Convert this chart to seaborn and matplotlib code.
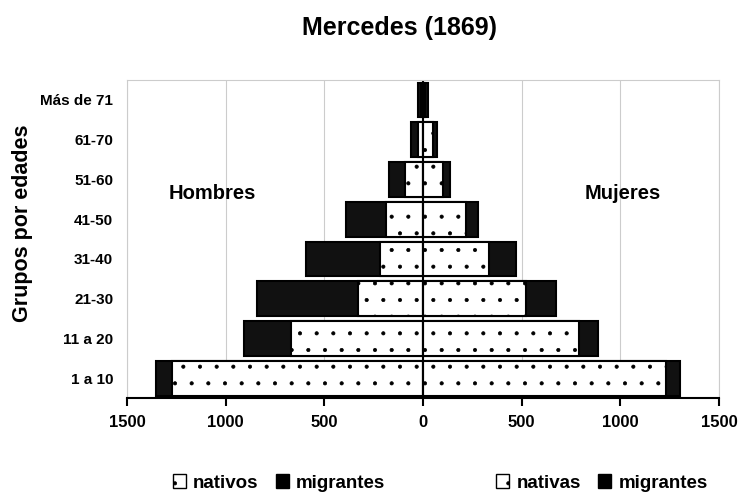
import numpy as np
import pandas as pd
import matplotlib
matplotlib.use("Agg")
import matplotlib.pyplot as plt
import seaborn as sns
from matplotlib.patches import Patch

# age groups, top to bottom
ages = ["Más de 71", "61-70", "51-60", "41-50", "31-40", "21-30", "11 a 20", "1 a 10"]
men_native = [10, 25, 90, 188, 218, 330, 670, 1270]
men_migr = [15, 35, 85, 203, 376, 513, 239, 85]
women_native = [10, 50, 100, 218, 335, 523, 792, 1233]
women_migr = [15, 20, 35, 61, 137, 152, 96, 67]
xticks = [-1500, -1000, -500, 0, 500, 1000, 1500]


def build_frame():
    df = pd.DataFrame({"edad": ages})
    df["h_nat"] = -np.array(men_native)
    df["h_tot"] = -(np.array(men_native) + np.array(men_migr))
    df["m_nat"] = np.array(women_native)
    df["m_tot"] = np.array(women_native) + np.array(women_migr)
    return df


sns.set_style("white")
plt.rcParams["font.family"] = ["Liberation Sans", "DejaVu Sans"]
plt.rcParams["font.weight"] = "bold"
plt.rcParams["text.color"] = "black"
plt.rcParams["xtick.color"] = "black"
plt.rcParams["ytick.color"] = "black"
plt.rcParams["hatch.linewidth"] = 0.5
plt.rcParams["hatch.color"] = "black"

df = build_frame()

fig, ax = plt.subplots(figsize=(7.39, 4.94), dpi=100)
fig.subplots_adjust(left=0.172, right=0.973, top=0.838, bottom=0.194)

kw = dict(y="edad", orient="h", edgecolor="black", linewidth=1.5,
          width=0.87, saturation=1, ax=ax)
sns.barplot(data=df, x="h_tot", color="#111111", **kw)
sns.barplot(data=df, x="m_tot", color="#111111", **kw)
n0 = len(ax.patches)
sns.barplot(data=df, x="h_nat", color="white", **kw)
sns.barplot(data=df, x="m_nat", color="white", **kw)
for p in ax.patches[n0:]:
    p.set_hatch(".")

ax.set_xlim(-1500, 1500)
ax.set_ylim(7.5, -0.5)
ax.set_xticks(xticks)
ax.set_xticklabels([str(abs(t)) for t in xticks])
ax.set_xlabel("")
ax.set_ylabel("")
ax.grid(axis="x", color="#cccccc", lw=0.8)
ax.set_axisbelow(True)
for s in ["left", "top", "right"]:
    ax.spines[s].set_color("#cccccc")
    ax.spines[s].set_linewidth(0.8)
ax.spines["bottom"].set_color("black")
ax.spines["bottom"].set_linewidth(1.5)
ax.axvline(0, color="black", lw=1.5)
ax.tick_params(axis="x", direction="out", length=6, width=1.5, color="black",
               labelsize=12, pad=6, bottom=True)
ax.tick_params(axis="y", length=0, labelsize=11, pad=10)

ax.text(-1070, 2.35, "Hombres", ha="center", va="center", fontsize=14.5, fontweight="bold")
ax.text(1010, 2.35, "Mujeres", ha="center", va="center", fontsize=14.5, fontweight="bold")

fig.text(0.54, 0.943, "Mercedes (1869)", ha="center", va="center", fontsize=18, fontweight="bold")
fig.text(0.03, 0.548, "Grupos por edades", rotation=90, ha="center", va="center",
         fontsize=15.5, fontweight="bold")

lg_kw = dict(ncol=2, loc="center", frameon=False, handlelength=0.7, handleheight=0.7,
             columnspacing=0.9, handletextpad=0.4, prop={"size": 13.5, "weight": "bold"})
h1 = [Patch(facecolor="white", edgecolor="black", hatch="."),
      Patch(facecolor="black", edgecolor="black")]
fig.legend(handles=h1, labels=["nativos", "migrantes"], bbox_to_anchor=(279 / 739, 1 - 483 / 494), **lg_kw)
h2 = [Patch(facecolor="white", edgecolor="black", hatch="."),
      Patch(facecolor="black", edgecolor="black")]
fig.legend(handles=h2, labels=["nativas", "migrantes"], bbox_to_anchor=(602 / 739, 1 - 483 / 494), **lg_kw)

fig.savefig("out.png", dpi=100)
